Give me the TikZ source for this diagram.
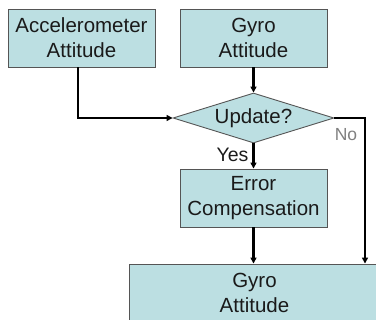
\documentclass[tikz,border=0pt]{standalone}
\usepackage{fontspec}
\setmainfont{Liberation Sans}
\usetikzlibrary{shapes.geometric,arrows.meta}
\definecolor{boxfill}{HTML}{BCDFE2}
\definecolor{boxline}{HTML}{555555}
\definecolor{txt}{HTML}{1A1A1A}
\begin{document}
\begin{tikzpicture}[x=1pt,y=-1pt,
  box/.style={draw=boxline,line width=0.9pt,fill=boxfill,rectangle,inner sep=0pt,
    minimum width=147pt,minimum height=58pt,align=center,text=txt,
    font=\fontsize{20.5}{25}\selectfont},
  decide/.style={draw=boxline,line width=0.9pt,fill=boxfill,diamond,inner sep=0pt,
    minimum width=161pt,minimum height=50pt,aspect=3.22,text=txt,
    font=\fontsize{20.5}{25}\selectfont},
  flow/.style={line width=2.2pt,-{Triangle[length=6pt,width=6pt]}},
  lbl/.style={font=\fontsize{19.5}{22}\selectfont,text=txt,inner sep=0pt}]
\useasboundingbox (0,0) rectangle (376,320);
\clip (0,0) rectangle (376,320);
\node[box] (acc) at (81.5,38) {Accelerometer\\Attitude};
\node[box] (gyro) at (253.5,38) {Gyro\\Attitude};
\node[decide] (upd) at (253.5,118) {Update?};
\node[box] (err) at (253.5,198) {Error\\Compensation};
\node[box,minimum width=251pt] (out) at (254.5,293) {Gyro\\Attitude};
\coordinate (nocorner) at (365,118);
\draw[flow] (acc.south -| 78,0) |- (upd.west);
\draw[flow] (gyro.south) -- (upd.north);
\draw[flow] (upd.south) -- node[lbl,left=4pt,pos=0.45] (yes) {Yes} (err.north);
\draw[flow] (err.south) -- (out.north -| err.south);
\draw[flow] (upd.east) -- (nocorner) -- (out.north -| nocorner);
\node[lbl,text=gray,font=\fontsize{17.5}{20}\selectfont] (no) at (346,135) {No};
\end{tikzpicture}
\end{document}
